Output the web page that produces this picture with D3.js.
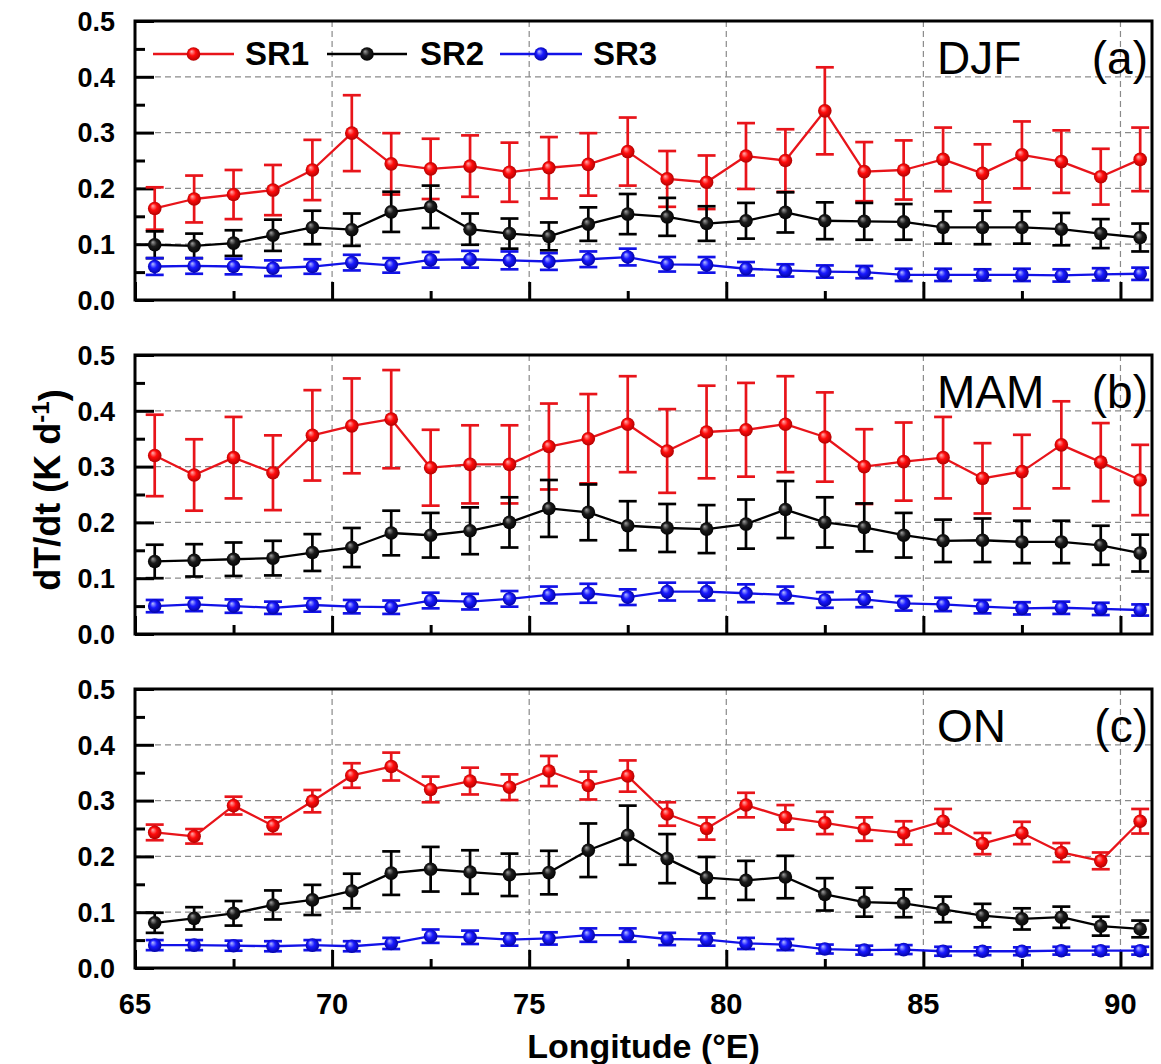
<!DOCTYPE html>
<html>
<head>
<meta charset="utf-8">
<script src="https://cdn.jsdelivr.net/npm/d3@7"></script>
<style>
  html, body { margin: 0; padding: 0; background: #fff; }
  #chart { width: 1161px; height: 1064px; }
</style>
</head>
<body>
<div id="chart"></div>
<script>
const lon = [65.5, 66.5, 67.5, 68.5, 69.5, 70.5, 71.5, 72.5, 73.5, 74.5, 75.5, 76.5, 77.5,
             78.5, 79.5, 80.5, 81.5, 82.5, 83.5, 84.5, 85.5, 86.5, 87.5, 88.5, 89.5, 90.5];

const xTicks = [65, 70, 75, 80, 85, 90];
const yTicks = [0.0, 0.1, 0.2, 0.3, 0.4, 0.5];

// (a) DJF
const djfSR1 = [0.164, 0.181, 0.189, 0.197, 0.233, 0.299, 0.244, 0.235, 0.240, 0.229, 0.237, 0.243, 0.266,
                0.217, 0.211, 0.258, 0.250, 0.339, 0.230, 0.233, 0.252, 0.227, 0.260, 0.248, 0.221, 0.252];
const djfSR1Err = [0.038, 0.042, 0.044, 0.045, 0.054, 0.068, 0.055, 0.054, 0.055, 0.053, 0.055, 0.056, 0.061,
                   0.050, 0.048, 0.059, 0.056, 0.078, 0.053, 0.053, 0.057, 0.052, 0.060, 0.056, 0.050, 0.057];
const djfSR2 = [0.099, 0.097, 0.102, 0.116, 0.130, 0.126, 0.158, 0.167, 0.127, 0.119, 0.114, 0.136, 0.154,
                0.149, 0.137, 0.142, 0.157, 0.142, 0.141, 0.140, 0.130, 0.130, 0.130, 0.127, 0.119, 0.112];
const djfSR2Err = [0.024, 0.022, 0.023, 0.028, 0.030, 0.029, 0.036, 0.038, 0.028, 0.027, 0.025, 0.030, 0.036,
                   0.034, 0.031, 0.032, 0.036, 0.033, 0.033, 0.032, 0.029, 0.030, 0.029, 0.029, 0.026, 0.025];
const djfSR3 = [0.060, 0.061, 0.060, 0.057, 0.060, 0.067, 0.062, 0.072, 0.073, 0.071, 0.069, 0.073, 0.077,
                0.064, 0.063, 0.056, 0.053, 0.051, 0.050, 0.045, 0.045, 0.045, 0.045, 0.044, 0.046, 0.047];
const djfSR3Err = [0.015, 0.014, 0.014, 0.014, 0.013, 0.014, 0.013, 0.014, 0.015, 0.016, 0.015, 0.014, 0.015,
                   0.013, 0.014, 0.012, 0.011, 0.011, 0.011, 0.011, 0.011, 0.010, 0.011, 0.011, 0.011, 0.011];

// (b) MAM
const mamSR1 = [0.320, 0.285, 0.316, 0.289, 0.356, 0.373, 0.385, 0.298, 0.304, 0.304, 0.336, 0.350, 0.376,
                0.328, 0.362, 0.366, 0.376, 0.353, 0.300, 0.309, 0.316, 0.279, 0.291, 0.339, 0.308, 0.276];
const mamSR1Err = [0.073, 0.064, 0.073, 0.067, 0.081, 0.085, 0.088, 0.068, 0.070, 0.070, 0.077, 0.080, 0.086,
                   0.075, 0.083, 0.084, 0.086, 0.080, 0.067, 0.070, 0.073, 0.063, 0.066, 0.078, 0.070, 0.063];
const mamSR2 = [0.130, 0.132, 0.134, 0.136, 0.146, 0.155, 0.181, 0.177, 0.185, 0.200, 0.225, 0.218, 0.194,
                0.190, 0.188, 0.197, 0.223, 0.200, 0.191, 0.177, 0.167, 0.168, 0.165, 0.165, 0.159, 0.145];
const mamSR2Err = [0.030, 0.029, 0.030, 0.031, 0.033, 0.035, 0.040, 0.040, 0.042, 0.045, 0.051, 0.050, 0.044,
                   0.043, 0.043, 0.044, 0.051, 0.045, 0.043, 0.040, 0.038, 0.039, 0.038, 0.038, 0.035, 0.033];
const mamSR3 = [0.050, 0.053, 0.050, 0.047, 0.052, 0.049, 0.048, 0.060, 0.058, 0.063, 0.070, 0.073, 0.066,
                0.076, 0.076, 0.073, 0.070, 0.061, 0.062, 0.055, 0.053, 0.049, 0.046, 0.047, 0.045, 0.043];
const mamSR3Err = [0.011, 0.012, 0.012, 0.011, 0.012, 0.012, 0.012, 0.014, 0.014, 0.014, 0.015, 0.017, 0.014,
                   0.016, 0.016, 0.016, 0.015, 0.014, 0.014, 0.013, 0.012, 0.012, 0.011, 0.011, 0.011, 0.010];

// (c) ON
const onSR1 = [0.243, 0.236, 0.291, 0.255, 0.299, 0.345, 0.361, 0.320, 0.335, 0.324, 0.353, 0.327, 0.344,
               0.276, 0.250, 0.292, 0.270, 0.260, 0.249, 0.242, 0.263, 0.223, 0.242, 0.207, 0.192, 0.263];
const onSR1Err = [0.014, 0.013, 0.016, 0.015, 0.020, 0.022, 0.025, 0.023, 0.024, 0.023, 0.027, 0.025, 0.028,
                  0.021, 0.020, 0.022, 0.022, 0.020, 0.021, 0.021, 0.022, 0.019, 0.020, 0.017, 0.015, 0.022];
const onSR2 = [0.081, 0.089, 0.098, 0.113, 0.122, 0.138, 0.170, 0.177, 0.172, 0.167, 0.171, 0.211, 0.238,
               0.196, 0.162, 0.157, 0.163, 0.132, 0.118, 0.116, 0.105, 0.094, 0.088, 0.091, 0.075, 0.070];
const onSR2Err = [0.018, 0.020, 0.022, 0.026, 0.027, 0.031, 0.039, 0.040, 0.039, 0.038, 0.039, 0.048, 0.053,
                  0.044, 0.037, 0.035, 0.038, 0.029, 0.026, 0.025, 0.023, 0.021, 0.019, 0.019, 0.017, 0.015];
const onSR3 = [0.041, 0.041, 0.040, 0.039, 0.041, 0.039, 0.044, 0.057, 0.055, 0.051, 0.053, 0.059, 0.059,
               0.052, 0.051, 0.044, 0.042, 0.034, 0.032, 0.033, 0.030, 0.030, 0.030, 0.031, 0.031, 0.031];
const onSR3Err = [0.009, 0.009, 0.009, 0.009, 0.009, 0.009, 0.010, 0.012, 0.012, 0.011, 0.011, 0.012, 0.012,
                  0.011, 0.011, 0.010, 0.010, 0.008, 0.008, 0.008, 0.008, 0.007, 0.007, 0.007, 0.007, 0.007];

const seriesNames = ["SR1", "SR2", "SR3"];
const seasonNames = ["DJF", "MAM", "ON"];
const panelTags = ["(a)", "(b)", "(c)"];

const panels = [
    { season: seasonNames[0], tag: panelTags[0], values: [djfSR1, djfSR2, djfSR3], errs: [djfSR1Err, djfSR2Err, djfSR3Err] },
    { season: seasonNames[1], tag: panelTags[1], values: [mamSR1, mamSR2, mamSR3], errs: [mamSR1Err, mamSR2Err, mamSR3Err] },
    { season: seasonNames[2], tag: panelTags[2], values: [onSR1, onSR2, onSR3], errs: [onSR1Err, onSR2Err, onSR3Err] }
];

const seriesColors = {
    "SR1": { line: "#e8141a", hi: "#ffb0b0", mid: "#ff0c0c", dark: "#a80000" },
    "SR2": { line: "#000000", hi: "#a0a0a0", mid: "#1c1c1c", dark: "#000000" },
    "SR3": { line: "#1212e8", hi: "#b8c0ff", mid: "#1a1aff", dark: "#00009a" }
};

const width = 1161;
const height = 1064;
const plotLeft = 135;
const plotRight = 1152;
const panelTop = [21, 355, 689];
const panelH = 279;
const font = "'Liberation Sans', Arial, sans-serif";

const svg = d3.select("#chart").append("svg")
    .attr("width", width)
    .attr("height", height)
    .attr("viewBox", `0 0 ${width} ${height}`)
    .style("font-family", font)
    .style("display", "block");

// shaded ball markers
const defs = svg.append("defs");
seriesNames.forEach(name => {
    const c = seriesColors[name];
    const g = defs.append("radialGradient")
        .attr("id", `ball-${name}`)
        .attr("cx", "50%").attr("cy", "50%").attr("r", "55%")
        .attr("fx", "35%").attr("fy", "30%");
    g.append("stop").attr("offset", "0%").attr("stop-color", c.hi);
    g.append("stop").attr("offset", "45%").attr("stop-color", c.mid);
    g.append("stop").attr("offset", "100%").attr("stop-color", c.dark);
});

const x = d3.scaleLinear()
    .domain([65, 90.8])
    .range([plotLeft, plotRight]);

const capHalf = 9;
const markerR = 6.8;

panels.forEach((panel, pi) => {
    const top = panelTop[pi];
    const bottom = top + panelH;

    const y = d3.scaleLinear()
        .domain([0, 0.5])
        .range([bottom, top]);

    const g = svg.append("g").attr("class", `panel panel-${pi}`);

    // dashed grid
    g.append("g")
        .selectAll("line.hgrid")
        .data(yTicks.filter(v => v > 0 && v < 0.5))
        .join("line")
        .attr("x1", plotLeft).attr("x2", plotRight)
        .attr("y1", d => y(d)).attr("y2", d => y(d))
        .attr("stroke", "#8a8a8a")
        .attr("stroke-width", 1.2)
        .attr("stroke-dasharray", "6,4");

    g.append("g")
        .selectAll("line.vgrid")
        .data(xTicks.filter(v => v > 65))
        .join("line")
        .attr("x1", d => x(d)).attr("x2", d => x(d))
        .attr("y1", top).attr("y2", bottom)
        .attr("stroke", "#8a8a8a")
        .attr("stroke-width", 1.2)
        .attr("stroke-dasharray", "6,4");

    // inward ticks
    const xAxis = d3.axisTop(x)
        .tickValues(d3.range(65, 91, 2.5))
        .tickFormat("")
        .tickSizeOuter(0)
        .tickSize(0);
    const xAx = g.append("g")
        .attr("transform", `translate(0,${bottom})`)
        .call(xAxis);
    xAx.select("path").remove();
    xAx.selectAll(".tick line")
        .attr("y2", d => (d % 5 === 0 ? -18 : -9))
        .attr("stroke", "#000")
        .attr("stroke-width", 3);

    const yAxis = d3.axisRight(y)
        .tickValues(d3.range(0, 0.51, 0.05))
        .tickFormat("")
        .tickSizeOuter(0)
        .tickSize(0);
    const yAx = g.append("g")
        .attr("transform", `translate(${plotLeft},0)`)
        .call(yAxis);
    yAx.select("path").remove();
    yAx.selectAll(".tick line")
        .attr("x2", (d, i) => (i % 2 === 0 ? 19 : 10))
        .attr("stroke", "#000")
        .attr("stroke-width", 3);

    // y tick labels
    g.append("g")
        .selectAll("text")
        .data(yTicks)
        .join("text")
        .attr("x", plotLeft - 20)
        .attr("y", d => y(d))
        .attr("dy", "0.36em")
        .attr("text-anchor", "end")
        .attr("font-size", "27px")
        .attr("font-weight", "bold")
        .attr("fill", "#000")
        .text(d => d3.format(".1f")(d));

    // series: red, black, blue
    seriesNames.forEach((name, si) => {
        const vals = panel.values[si];
        const errs = panel.errs[si];
        const pts = lon.map((lo, i) => ({ lon: lo, v: vals[i], e: errs[i] }));
        const c = seriesColors[name];
        const sg = g.append("g").attr("class", `series ${name}`);

        sg.append("path")
            .datum(pts)
            .attr("fill", "none")
            .attr("stroke", c.line)
            .attr("stroke-width", 2.3)
            .attr("stroke-linejoin", "round")
            .attr("d", d3.line().x(d => x(d.lon)).y(d => y(d.v)));

        const bars = sg.append("g")
            .attr("stroke", c.line)
            .attr("stroke-width", 2.7)
            .attr("fill", "none");

        bars.selectAll("line.bar")
            .data(pts)
            .join("line")
            .attr("x1", d => x(d.lon)).attr("x2", d => x(d.lon))
            .attr("y1", d => y(d.v + d.e)).attr("y2", d => y(d.v - d.e));

        bars.selectAll("line.capTop")
            .data(pts)
            .join("line")
            .attr("class", "capTop")
            .attr("x1", d => x(d.lon) - capHalf).attr("x2", d => x(d.lon) + capHalf)
            .attr("y1", d => y(d.v + d.e)).attr("y2", d => y(d.v + d.e));

        bars.selectAll("line.capBot")
            .data(pts)
            .join("line")
            .attr("class", "capBot")
            .attr("x1", d => x(d.lon) - capHalf).attr("x2", d => x(d.lon) + capHalf)
            .attr("y1", d => y(d.v - d.e)).attr("y2", d => y(d.v - d.e));

        sg.append("g")
            .selectAll("circle")
            .data(pts)
            .join("circle")
            .attr("cx", d => x(d.lon))
            .attr("cy", d => y(d.v))
            .attr("r", markerR)
            .attr("fill", `url(#ball-${name})`);
    });

    // frame
    g.append("rect")
        .attr("x", plotLeft)
        .attr("y", top)
        .attr("width", plotRight - plotLeft)
        .attr("height", panelH)
        .attr("fill", "none")
        .attr("stroke", "#000")
        .attr("stroke-width", 3);

    // season and panel tag
    g.append("text")
        .attr("x", 937)
        .attr("y", top + 53)
        .attr("font-size", "46px")
        .attr("fill", "#000")
        .text(panel.season);

    g.append("text")
        .attr("x", plotRight - 4)
        .attr("y", top + 53)
        .attr("text-anchor", "end")
        .attr("font-size", "46px")
        .attr("fill", "#000")
        .text(panel.tag);
});

// legend in panel (a)
const legendItems = [
    { name: "SR1", x1: 153, x2: 234, tx: 245 },
    { name: "SR2", x1: 327, x2: 407, tx: 420 },
    { name: "SR3", x1: 500, x2: 582, tx: 593 }
];
const legend = svg.append("g").attr("class", "legend");
legendItems.forEach(item => {
    const c = seriesColors[item.name];
    const ly = panelTop[0] + 33;
    legend.append("line")
        .attr("x1", item.x1).attr("x2", item.x2)
        .attr("y1", ly).attr("y2", ly)
        .attr("stroke", c.line)
        .attr("stroke-width", 2.3);
    legend.append("circle")
        .attr("cx", (item.x1 + item.x2) / 2)
        .attr("cy", ly)
        .attr("r", markerR)
        .attr("fill", `url(#ball-${item.name})`);
    legend.append("text")
        .attr("x", item.tx)
        .attr("y", panelTop[0] + 44)
        .attr("font-size", "33px")
        .attr("font-weight", "bold")
        .attr("fill", "#000")
        .text(item.name);
});

// x tick labels (bottom panel only)
const lastBottom = panelTop[2] + panelH;
svg.append("g")
    .selectAll("text")
    .data(xTicks)
    .join("text")
    .attr("x", d => x(d))
    .attr("y", lastBottom + 46)
    .attr("text-anchor", "middle")
    .attr("font-size", "29px")
    .attr("font-weight", "bold")
    .attr("fill", "#000")
    .text(d => d);

// axis titles
svg.append("text")
    .attr("x", (plotLeft + plotRight) / 2)
    .attr("y", 1058)
    .attr("text-anchor", "middle")
    .attr("font-size", "34px")
    .attr("font-weight", "bold")
    .attr("fill", "#000")
    .text("Longitude (°E)");

const yTitle = svg.append("text")
    .attr("transform", "translate(60,490) rotate(-90)")
    .attr("text-anchor", "middle")
    .attr("font-size", "36px")
    .attr("font-weight", "bold")
    .attr("fill", "#000");
yTitle.append("tspan").text("dT/dt (K d");
yTitle.append("tspan").attr("dy", "-0.45em").attr("font-size", "24px").text("-1");
yTitle.append("tspan").attr("dy", "0.45em").text(")");
</script>
</body>
</html>
